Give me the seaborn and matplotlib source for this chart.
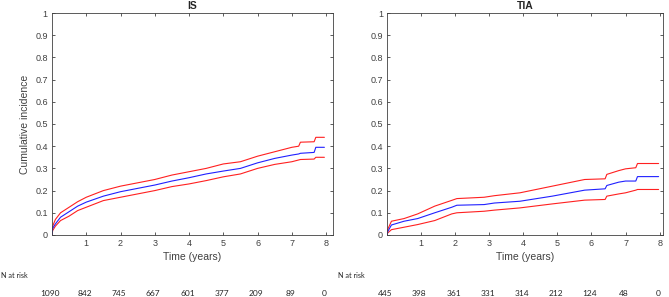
import matplotlib
matplotlib.use("Agg")
import matplotlib.pyplot as plt
import numpy as np
import seaborn as sns

# ---- data ----
years = [0, 1, 2, 3, 4, 5, 6, 7, 8]

is_t = [0, 0.02, 0.1, 0.25, 0.5, 0.75, 1.0, 1.5, 2.0, 2.5, 3.0, 3.5, 4.0, 4.5,
        5.0, 5.5, 6.0, 6.5, 7.0, 7.2, 7.25, 7.65, 7.7, 7.95]
is_est = [0, 0.03, 0.05, 0.08, 0.105, 0.13, 0.148, 0.175, 0.195, 0.21, 0.225, 0.243,
          0.258, 0.275, 0.288, 0.30, 0.325, 0.345, 0.36, 0.365, 0.368, 0.372, 0.395, 0.395]
is_upper = [0, 0.04, 0.07, 0.10, 0.125, 0.15, 0.17, 0.20, 0.22, 0.235, 0.25, 0.27,
            0.285, 0.30, 0.32, 0.33, 0.355, 0.375, 0.395, 0.40, 0.418, 0.42, 0.44, 0.44]
is_lower = [0, 0.02, 0.04, 0.065, 0.085, 0.11, 0.125, 0.155, 0.17, 0.185, 0.20, 0.218,
            0.23, 0.245, 0.262, 0.275, 0.30, 0.318, 0.33, 0.338, 0.34, 0.342, 0.35, 0.35]
is_risk = [1090, 842, 745, 667, 601, 377, 209, 89, 0]

tia_t = [0, 0.02, 0.13, 0.5, 0.9, 1.4, 1.9, 2.05, 2.85, 3.15, 3.9, 4.85, 5.8, 6.4,
         6.45, 6.8, 7.0, 7.3, 7.35, 7.97]
tia_est = [0, 0.015, 0.045, 0.062, 0.074, 0.10, 0.125, 0.134, 0.137, 0.144, 0.152,
           0.175, 0.202, 0.208, 0.223, 0.238, 0.243, 0.243, 0.263, 0.263]
tia_upper = [0, 0.025, 0.062, 0.074, 0.095, 0.13, 0.156, 0.164, 0.17, 0.177, 0.19,
             0.22, 0.25, 0.253, 0.273, 0.29, 0.298, 0.303, 0.322, 0.322]
tia_lower = [0, 0.009, 0.024, 0.035, 0.047, 0.065, 0.095, 0.10, 0.107, 0.112, 0.122,
             0.14, 0.157, 0.16, 0.175, 0.185, 0.19, 0.202, 0.205, 0.205]
tia_risk = [445, 398, 361, 331, 314, 212, 124, 48, 0]

sns.set_style("ticks")
plt.rcParams['font.family'] = ['Liberation Sans', 'DejaVu Sans']

fig = plt.figure(figsize=(6.69, 2.97), dpi=100)
ax1 = fig.add_axes([0.0777, 0.2088, 0.42, 0.7474])
ax2 = fig.add_axes([0.5785, 0.2088, 0.4126, 0.7474])

axis_col = '#404040'
panels = [
    (ax1, 'IS', is_t, is_est, is_upper, is_lower, is_risk, 8.2, 0.002),
    (ax2, 'TIA', tia_t, tia_est, tia_upper, tia_lower, tia_risk, 8.1, 0.505),
]

for ax, title, t, est, up, lo, risk, xmax, nx in panels:
    sns.lineplot(x=t, y=up, ax=ax, color='#ff2020', lw=0.8)
    sns.lineplot(x=t, y=lo, ax=ax, color='#ff2020', lw=0.8)
    sns.lineplot(x=t, y=est, ax=ax, color='#2020ff', lw=0.8)

    ax.set_xlim(0, xmax)
    ax.set_ylim(0, 1)
    ax.set_xticks(years[1:])
    ax.set_xticklabels([str(v) for v in years[1:]])
    yt = np.round(np.arange(0, 1.01, 0.1), 1)
    ax.set_yticks(yt)
    ax.set_yticklabels(['0' if v == 0 else ('1' if v == 1 else f'{v:g}') for v in yt])
    ax.tick_params(direction='in', length=2.5, width=0.6, colors=axis_col,
                   labelsize=6.5, top=True, right=True, pad=3)
    for s in ax.spines.values():
        s.set_visible(True)
        s.set_color(axis_col)
        s.set_linewidth(0.6)
    ax.set_title(title, fontsize=7.5, fontweight='bold', pad=3)
    ax.set_xlabel('Time (years)', fontsize=7.5, color=axis_col, labelpad=3)

    # number at risk table
    fig.text(nx, 0.074, 'N at risk', fontsize=5.2, family='Lato', va='center')
    tr = ax.get_xaxis_transform()
    for yr, n in zip(years, risk):
        ax.text(yr - 0.05, -0.262, str(n), transform=tr, ha='center', va='center',
                fontsize=6, family='Lato', clip_on=False)

ax1.set_ylabel('Cumulative incidence', fontsize=7.5, color=axis_col, labelpad=4)

fig.savefig('out.png', dpi=100)
